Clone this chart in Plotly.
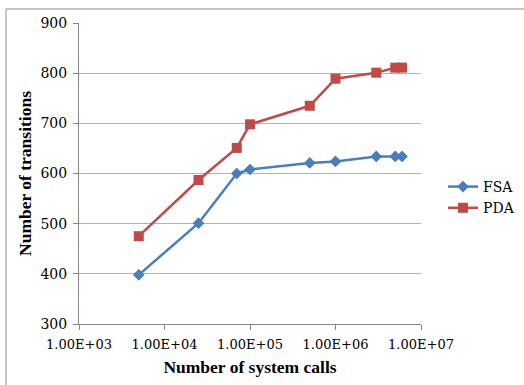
import plotly.graph_objects as go

# Number of system calls observed
system_calls = [5000, 25000, 70000, 100000, 500000, 1000000, 3000000, 5000000, 6000000]
# Number of transitions learned by each model
fsa_transitions = [398, 501, 600, 608, 621, 624, 634, 634, 634]
pda_transitions = [475, 587, 651, 698, 735, 789, 801, 811, 811]

x_tick_values = [1e3, 1e4, 1e5, 1e6, 1e7]
x_tick_labels = ["1.00E+03", "1.00E+04", "1.00E+05", "1.00E+06", "1.00E+07"]
y_tick_values = [300, 400, 500, 600, 700, 800, 900]

FONT = "Liberation Serif"
TICK_FONT = "DejaVu Serif"
W, H = 524, 385
L, R, T, B = 79, 103, 23, 61

fig = go.Figure()
fig.add_trace(go.Scatter(
    x=system_calls, y=fsa_transitions, name="FSA", mode="lines+markers",
    line=dict(color="#4A7EBB", width=2.5),
    marker=dict(symbol="diamond", size=9, color="#4A7EBB"),
))
fig.add_trace(go.Scatter(
    x=system_calls, y=pda_transitions, name="PDA", mode="lines+markers",
    line=dict(color="#BE4B48", width=2.5),
    marker=dict(symbol="square", size=10, color="#BE4B48"),
))

pw = W - L - R
ph = H - T - B
def px_x(p):
    return (p - L) / pw
def px_y(p):
    return (H - B - p) / ph

fig.update_layout(
    width=W, height=H,
    margin=dict(l=L, r=R, t=T, b=B, autoexpand=False),
    paper_bgcolor="white", plot_bgcolor="white",
    font=dict(family=FONT, size=15, color="black"),
    showlegend=True,
    legend=dict(
        x=px_x(443), y=px_y(171), xanchor="left", yanchor="top",
        font=dict(family=TICK_FONT, size=14, color="black"),
        bgcolor="rgba(0,0,0,0)", itemwidth=30, tracegroupgap=4,
    ),
    xaxis=dict(
        type="log", range=[3, 7],
        tickvals=x_tick_values, ticktext=x_tick_labels,
        showgrid=False, zeroline=False,
        showline=True, linecolor="#868686", linewidth=1,
        ticks="outside", ticklen=5, tickcolor="#868686",
        ticklabelstandoff=3,
        tickfont=dict(family=TICK_FONT, size=13, color="black"),
        title=dict(text="<b>Number of system calls</b>", font=dict(family=FONT, size=17.5), standoff=10),
    ),
    yaxis=dict(
        range=[300, 900], tickvals=y_tick_values,
        showgrid=True, gridcolor="#B3B3B3", gridwidth=1,
        zeroline=False,
        showline=True, linecolor="#868686", linewidth=1,
        ticks="outside", ticklen=5, tickcolor="#868686",
        ticklabelstandoff=3,
        tickfont=dict(family=TICK_FONT, size=14, color="black"),
        title=dict(text="<b>Number of transitions</b>", font=dict(family=FONT, size=17.5), standoff=4),
    ),
    shapes=[dict(
        type="rect", xref="paper", yref="paper",
        x0=px_x(6), x1=px_x(535), y0=px_y(395), y1=px_y(9),
        line=dict(color="#8C8C8C", width=1), fillcolor="rgba(0,0,0,0)", layer="below",
    )],
)

fig.write_html("out.html")
